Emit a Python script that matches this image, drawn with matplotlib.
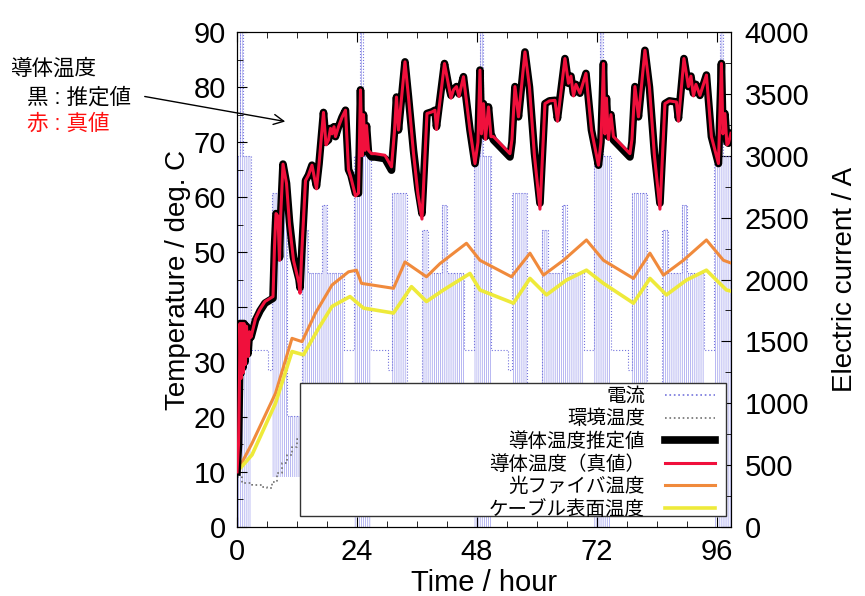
import matplotlib.pyplot as plt
from matplotlib.lines import Line2D
from matplotlib.patches import Rectangle

plt.rcParams['font.family'] = ['Liberation Sans', 'Noto Sans CJK JP']
plt.rcParams['hatch.linewidth'] = 0.55

# electric current: one daily load pattern (hour within day, upper / lower level in A)
day_start = [0, 24, 48, 72, 96]
seg_start = [-0.6, 0.6, 1.2, 2.8, 6.2, 7.0, 10.0, 13.0, 14.2, 17.0, 18.0, 21.5]
seg_high = [3000, 4000, 3000, 1430, 1270, 2700, 900, 2400, 2050, 2600, 2050, 1430]
seg_low = [0, 0, 0, 1430, 1270, 400, 400, 400, 400, 400, 400, 1430]

# ambient temperature (step), hour / deg C
amb_h = [0, 1, 2, 3, 4, 5, 6, 7, 8, 9, 10, 11, 12, 13]
amb_T = [9.1, 8.0, 7.9, 7.7, 7.6, 7.3, 7.0, 8.2, 9.8, 11.6, 13.0, 14.6, 16.0, 16.0]

# conductor temperature (estimate = black, true = red)
cond_h = [0.0, 0.3, 0.5, 0.6, 0.8, 1.0, 1.2, 1.4, 1.6, 1.9, 2.2, 2.5, 2.8, 3.7, 4.6, 5.6,
          7.2, 7.5, 7.8, 8.2, 8.5, 8.7, 9.2, 9.9, 10.5, 11.3, 12.4, 12.6, 12.9, 13.7, 14.3,
          15.0, 15.9, 16.4, 17.3, 17.8, 18.3, 18.7, 19.0, 19.4, 19.7, 20.3, 21.0, 21.7,
          22.3, 22.8, 23.7, 24.3, 24.7, 25.0, 25.3, 25.6, 25.9, 26.3, 26.9, 27.6, 29.6,
          30.9, 31.5, 31.9, 32.3, 33.6, 34.3, 35.3, 36.2, 37.0, 38.0, 39.0, 39.6, 39.9,
          41.5, 42.3, 42.8, 43.3, 43.9, 44.4, 45.3, 46.6, 47.6, 48.2, 48.6, 48.9, 49.3,
          49.7, 50.3, 50.8, 51.3, 54.6, 55.0, 55.6, 56.3, 57.6, 58.5, 59.5, 60.6, 61.6,
          62.5, 63.6, 64.1, 65.6, 66.3, 66.8, 67.3, 67.8, 68.6, 69.8, 70.9, 72.3, 72.8,
          73.3, 73.6, 73.9, 74.3, 74.8, 75.3, 78.6, 79.0, 79.6, 80.3, 81.6, 82.5, 83.5,
          84.6, 85.6, 86.5, 87.9, 88.3, 89.4, 90.3, 90.8, 91.3, 91.8, 92.6, 93.9, 94.9,
          96.3, 96.9, 97.2, 97.6, 98.0, 98.3, 98.8]
cond_est = [10.0, 15.0, 27.0, 37.0, 28.0, 37.0, 29.0, 37.0, 30.0, 36.5, 31.5, 35.5, 34.5,
            37.6, 39.3, 40.7, 41.6, 51.0, 57.0, 56.5, 49.0, 56.0, 66.0, 62.5, 55.5, 49.0,
            45.0, 43.5, 49.0, 63.0, 64.0, 65.8, 62.0, 66.0, 75.4, 70.0, 70.4, 72.5, 71.5,
            72.8, 71.0, 72.8, 74.5, 75.8, 65.0, 64.0, 60.7, 60.7, 79.5, 68.0, 75.0, 69.0,
            73.0, 68.0, 67.3, 67.3, 67.0, 64.9, 72.0, 78.2, 72.2, 84.6, 78.2, 68.5, 61.5,
            57.0, 75.2, 75.5, 75.8, 72.8, 84.3, 80.4, 78.5, 79.5, 80.1, 78.8, 81.9, 72.2,
            66.1, 70.0, 83.1, 72.0, 77.0, 71.0, 76.4, 71.5, 70.4, 67.3, 70.0, 80.1, 74.6,
            86.4, 80.0, 68.0, 58.9, 77.0, 77.5, 77.6, 74.3, 85.2, 80.7, 82.0, 78.9, 80.5,
            78.9, 82.5, 72.2, 65.8, 70.0, 84.3, 72.0, 78.0, 71.0, 75.0, 70.4, 67.3, 70.0,
            80.1, 74.6, 86.7, 80.0, 68.0, 58.9, 77.0, 77.5, 77.3, 74.3, 85.2, 80.1, 82.0,
            78.9, 80.5, 78.5, 82.2, 71.0, 66.1, 84.3, 72.0, 75.2, 70.0, 69.8, 71.6]
cond_true = [10.0, 15.0, 27.0, 37.0, 27.0, 37.0, 28.0, 37.0, 29.5, 36.5, 31.0, 35.5, 34.5,
             37.9, 39.6, 41.0, 41.9, 51.0, 57.0, 56.5, 48.5, 56.0, 66.0, 62.5, 55.0, 48.5,
             44.3, 42.5, 49.0, 63.0, 64.0, 65.8, 61.5, 66.0, 75.4, 69.5, 70.4, 72.5, 71.5,
             72.8, 71.0, 72.8, 74.5, 75.8, 65.0, 63.5, 60.2, 60.7, 79.5, 67.5, 75.0, 68.5,
             73.0, 68.5, 67.9, 67.9, 67.6, 65.5, 72.0, 78.2, 72.2, 84.6, 78.2, 68.0, 60.5,
             56.0, 75.2, 75.5, 75.8, 72.3, 84.3, 80.4, 78.0, 79.5, 80.1, 78.3, 81.9, 72.2,
             66.1, 70.0, 83.1, 71.5, 77.0, 70.5, 76.4, 71.0, 71.0, 67.9, 70.5, 80.1, 74.6,
             86.4, 80.0, 67.5, 57.8, 77.0, 77.5, 77.6, 73.8, 85.2, 80.7, 82.0, 78.4, 80.5,
             78.9, 82.5, 72.2, 65.8, 70.0, 84.3, 71.5, 78.0, 70.5, 75.0, 71.0, 67.9, 70.5,
             80.1, 74.6, 86.7, 80.0, 67.5, 57.8, 77.0, 77.5, 77.3, 73.8, 85.2, 80.1, 82.0,
             78.4, 80.5, 78.5, 82.2, 71.0, 66.1, 84.3, 71.5, 75.2, 69.5, 69.8, 71.6]

# optical fibre temperature
fib_h = [0.0, 3.0, 7.7, 11.0, 13.0, 15.7, 19.0, 22.3, 23.9, 24.9, 31.3, 33.6, 37.9,
         40.6, 45.9, 48.6, 54.9, 58.6, 61.3, 65.3, 69.9, 73.3, 79.3, 82.6, 85.3, 89.3,
         93.9, 97.3, 98.8]
fib_T = [10.0, 15.2, 24.3, 34.3, 33.7, 38.9, 44.0, 46.4, 46.7, 44.3, 43.4, 48.2, 45.5,
         47.9, 51.6, 48.5, 45.5, 49.8, 45.8, 48.5, 52.2, 48.5, 45.2, 49.8, 45.8, 48.5,
         52.2, 48.5, 48.0]

# cable surface temperature
surf_h = [0.0, 3.0, 7.7, 11.0, 13.3, 16.3, 19.0, 22.6, 25.3, 31.3, 34.9, 37.9, 41.3,
          46.6, 48.6, 55.3, 58.6, 61.9, 65.9, 69.9, 73.3, 79.3, 82.6, 85.9, 89.9, 93.9,
          97.9, 98.8]
surf_T = [10.0, 13.1, 22.5, 31.9, 31.3, 36.1, 40.1, 41.9, 39.8, 38.9, 43.7, 41.0, 43.1,
          46.1, 43.1, 40.7, 45.2, 42.2, 44.9, 46.7, 44.3, 40.7, 45.2, 42.2, 44.9, 46.7,
          43.1, 42.9]

legend_labels = ['電流', '環境温度', '導体温度推定値', '導体温度（真値）',
                 '光ファイバ温度', 'ケーブル表面温度']

c_cur = '#7474dc'
c_amb = '#707070'
c_red = '#f0103c'
c_org = '#f08a3c'
c_yel = '#eeea3a'

# build the current step series from the daily pattern
cur_t, cur_hi, cur_lo = [], [], []
for d in day_start:
    for r, hi, lo in zip(seg_start, seg_high, seg_low):
        cur_t.append(d + r)
        cur_hi.append(hi)
        cur_lo.append(lo)
cur_t.append(day_start[-1] + 24)
cur_hi.append(cur_hi[-1])
cur_lo.append(cur_lo[-1])

fig = plt.figure(figsize=(8.65, 5.96), dpi=100)
ax = fig.add_axes([0.274, 0.116, 0.571, 0.830])
ax2 = ax.twinx()
ax.set_zorder(ax2.get_zorder() + 1)
ax.patch.set_visible(False)

ax2.fill_between(cur_t, cur_lo, cur_hi, step='post', facecolor='none',
                 edgecolor='#a4a4ee', hatch='||||||||', linewidth=0)
ax2.step(cur_t, cur_hi, where='post', color=c_cur, ls=':', lw=0.8)

ax.step(amb_h, amb_T, where='post', color=c_amb, ls=':', lw=1.2, zorder=2)
ax.plot(fib_h, fib_T, color=c_org, lw=2.2, zorder=3)
ax.plot(surf_h, surf_T, color=c_yel, lw=2.6, zorder=3)
ax.plot(cond_h, cond_est, color='black', lw=5.5, zorder=3)
ax.plot(cond_h, cond_true, color=c_red, lw=2.2, zorder=4)

# opaque legend box
ax.add_patch(Rectangle((0.1275, 0.022), 0.8625, 0.269, transform=ax.transAxes,
                       facecolor='white', edgecolor='#333333', lw=1, zorder=5))
handles = [Line2D([], [], color=c_cur, ls=':', lw=1.2),
           Line2D([], [], color=c_amb, ls=':', lw=1.2),
           Line2D([], [], color='black', lw=5.5),
           Line2D([], [], color=c_red, lw=2.2),
           Line2D([], [], color=c_org, lw=2.2),
           Line2D([], [], color=c_yel, lw=2.6)]
leg = ax.legend(handles, legend_labels, loc='lower right', bbox_to_anchor=(0.968, 0.016),
                markerfirst=False, frameon=False, fontsize=14, handlelength=2.6,
                handletextpad=1.0, labelspacing=0.2, borderpad=0, borderaxespad=0)
leg.set_zorder(6)

ax.set_xlim(0, 98.8)
ax.set_ylim(0, 90)
ax2.set_ylim(0, 4000)
ax.set_xticks([0, 24, 48, 72, 96])
ax.set_xticks(range(6, 96, 6), minor=True)
ax.set_yticks(range(0, 91, 10))
ax.set_yticks(range(5, 90, 10), minor=True)
ax2.set_yticks(range(0, 4001, 500))
ax2.set_yticks(range(250, 4000, 500), minor=True)

ax.tick_params(which='both', direction='in', top=True, labelsize=21, pad=8)
ax.tick_params(which='major', length=7)
ax.tick_params(which='minor', length=4)
ax2.tick_params(which='both', direction='in', labelsize=21, pad=10)
ax2.tick_params(which='major', length=7)
ax2.tick_params(which='minor', length=4)

ax.set_xlabel('Time / hour', fontsize=21, labelpad=2)
ax.set_ylabel('Temperature / deg. C', fontsize=20, labelpad=2)
ax2.set_ylabel('Electric current / A', fontsize=20, labelpad=16)

fig.text(10 / 865, 1 - 69 / 596, '導体温度', fontsize=15.5, va='center')
fig.text(27 / 865, 1 - 98 / 596, '黒 : 推定値', fontsize=15.5, va='center')
fig.text(27 / 865, 1 - 124 / 596, '赤 : 真値', fontsize=15.5, va='center', color='#ff1010')
ax.annotate('', xy=(288 / 865, 1 - 122 / 596), xytext=(142 / 865, 1 - 96 / 596),
            xycoords='figure fraction', textcoords='figure fraction',
            arrowprops=dict(arrowstyle='->', color='black', lw=1, mutation_scale=18))

fig.savefig('out.png', dpi=100)
